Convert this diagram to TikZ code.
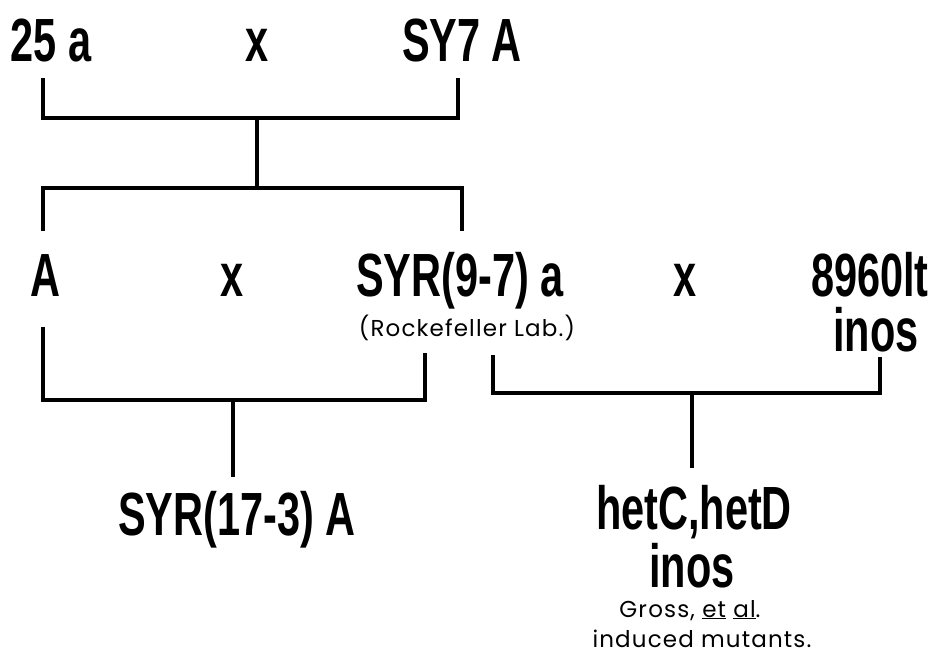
\documentclass[tikz,border=0pt]{standalone}
\usepackage{fontspec}
\newfontfamily\condfont{Liberation Sans Bold}[FakeStretch=0.68]
\newfontfamily\smallfont{Poppins}[LetterSpace=5]
\tikzset{
  big/.style={inner sep=0pt, anchor=base, font=\condfont\fontsize{61}{61}\selectfont},
  small/.style={inner sep=0pt, anchor=base, font=\smallfont\fontsize{23}{23}\selectfont},
  link/.style={line width=3.6pt, line cap=butt, line join=miter}
}
\begin{document}
\begin{tikzpicture}[x=1pt,y=-1pt]
\useasboundingbox (0,0) rectangle (937,654);
% texts
\node[big] (p25) at (51,61) {25 a};
\node[big] (x1) at (257,61) {x};
\node[big] (sy7) at (462,61) {SY7 A};
\node[big] (pA) at (45,296) {A};
\node[big] (x2) at (232,296) {x};
\node[big] (syr97) at (460,296) {SYR(9-7) a};
\node[small] (rock) at (467,336) {(Rockefeller Lab.)};
\node[big] (x3) at (685,296) {x};
\node[big] (p8960) at (870,296) {8960lt};
\node[big] (inos1) at (876,351) {inos};
\node[big] (syr173) at (237,535) {SYR(17-3) A};
\node[big] (het) at (694,529) {hetC,hetD};
\node[big] (inos2) at (692,587) {inos};
\node[small] (gross) at (690,617) {Gross, \underline{et} \underline{al}.};
\node[small] (induced) at (702,647) {induced mutants.};
% connector points
\coordinate (a1) at (43,78);
\coordinate (a2) at (458,78);
\coordinate (j1) at (257,118);
\coordinate (j2) at (257,188);
\coordinate (b1) at (43,231);
\coordinate (b2) at (462,231);
\coordinate (c1) at (43,327);
\coordinate (c2) at (425,353);
\coordinate (j3) at (233,400);
\coordinate (e3) at (233,477);
\coordinate (d1) at (493,355);
\coordinate (d2) at (880,357);
\coordinate (j4) at (692,393);
\coordinate (e4) at (692,468);
% connectors
\draw[link] (a1) |- (j1) -| (a2);
\draw[link] (j1) -- (j2);
\draw[link] (b1) |- (j2) -| (b2);
\draw[link] (c1) |- (j3) -| (c2);
\draw[link] (j3) -- (e3);
\draw[link] (d1) |- (j4) -| (d2);
\draw[link] (j4) -- (e4);
\end{tikzpicture}
\end{document}
